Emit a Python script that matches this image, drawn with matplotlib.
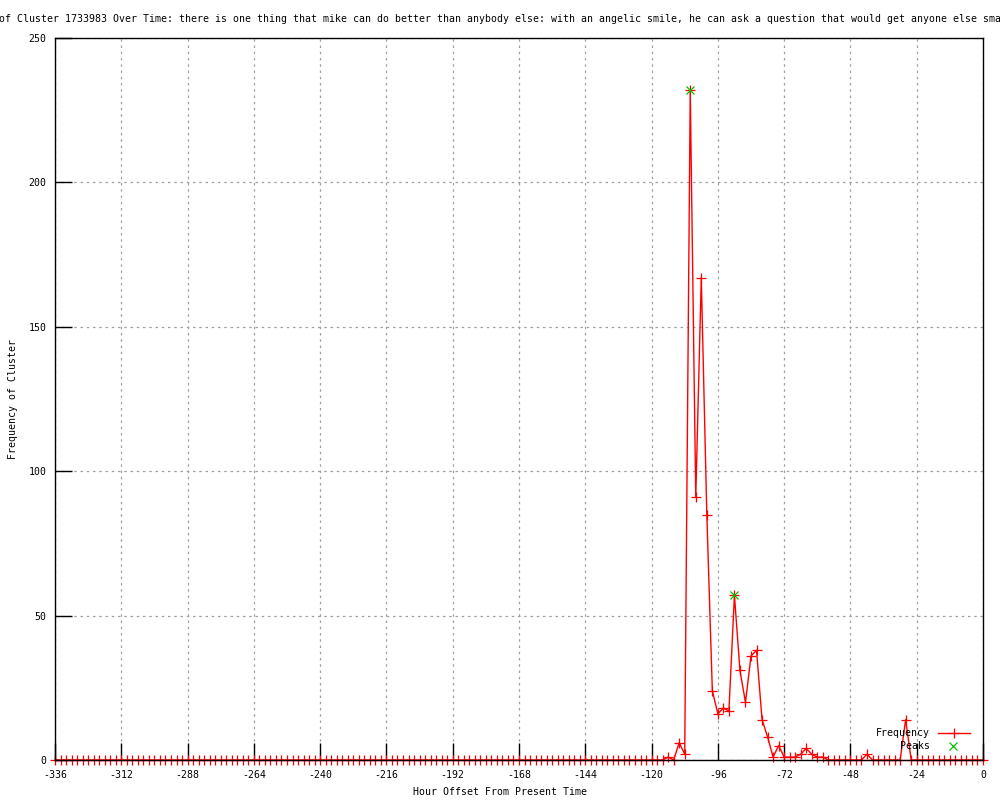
import matplotlib
matplotlib.use("Agg")
import matplotlib.pyplot as plt
from matplotlib.lines import Line2D

plt.rcParams['font.family'] = ['DejaVu Sans Mono']
plt.rcParams['axes.unicode_minus'] = False

title_text = ("of Cluster 1733983 Over Time: there is one thing that mike can do better "
              "than anybody else: with an angelic smile, he can ask a question that would get anyone else sma")
x_label = "Hour Offset From Present Time"
y_label = "Frequency of Cluster"

hours = list(range(-336, 1, 2))
freq = [
    0, 0, 0, 0, 0, 0, 0, 0, 0, 0,
    0, 0, 0, 0, 0, 0, 0, 0, 0, 0,
    0, 0, 0, 0, 0, 0, 0, 0, 0, 0,
    0, 0, 0, 0, 0, 0, 0, 0, 0, 0,
    0, 0, 0, 0, 0, 0, 0, 0, 0, 0,
    0, 0, 0, 0, 0, 0, 0, 0, 0, 0,
    0, 0, 0, 0, 0, 0, 0, 0, 0, 0,
    0, 0, 0, 0, 0, 0, 0, 0, 0, 0,
    0, 0, 0, 0, 0, 0, 0, 0, 0, 0,
    0, 0, 0, 0, 0, 0, 0, 0, 0, 0,
    0, 0, 0, 0, 0, 0, 0, 0, 0, 0,          # -336 .. -118
    0, 1, 0, 6, 2, 232, 91, 167, 85, 24,   # -116 .. -98
    16, 18, 17, 57, 31, 20, 36, 38, 14, 8,  # -96 .. -78
    1, 5, 1, 1, 1, 2, 4, 2, 1, 1,          # -76 .. -58
    0, 0, 0, 0, 0, 0, 0, 2, 0, 0,          # -56 .. -38
    0, 0, 0, 0, 14, 0, 0, 0, 0, 0,         # -36 .. -18
    0, 0, 0, 0, 0, 0, 0, 0, 0,             # -16 .. 0
]

peak_hours = [-106, -90]
peak_values = [232, 57]

xticks = list(range(-336, 1, 24))
xtick_labels = [str(v) for v in xticks]
yticks = [0, 50, 100, 150, 200, 250]
ytick_labels = [str(v) for v in yticks]

RED = "#ff0000"
GREEN = "#00c000"
FS = 7.1

fig = plt.figure(figsize=(10, 8), dpi=100)
ax = fig.add_axes([0.055, 0.05, 0.928, 0.9025])

ax.plot(hours, freq, color=RED, lw=1.0, marker='+', ms=6.5, mew=0.9,
        clip_on=False, zorder=3)
ax.plot(peak_hours, peak_values, linestyle='none', color=GREEN, marker='x',
        ms=5.5, mew=0.9, clip_on=False, zorder=4)

ax.set_xlim(-336, 0)
ax.set_ylim(0, 250)
ax.set_xticks(xticks)
ax.set_xticklabels(xtick_labels)
ax.set_yticks(yticks)
ax.set_yticklabels(ytick_labels)
ax.tick_params(axis='both', direction='in', length=12, width=1, color='black',
               labelsize=FS, top=False, right=False)
ax.tick_params(axis='x', pad=7)
ax.tick_params(axis='y', pad=6)
ax.grid(True, color='#a0a0a0', linestyle=(0, (2, 3)), linewidth=0.9, zorder=0)
ax.set_axisbelow(True)
for sp in ax.spines.values():
    sp.set_color('black')
    sp.set_linewidth(1.0)
    sp.set_zorder(5)

fig.text(0.5, 1 - 19 / 800, title_text, ha='center', va='center', fontsize=FS)
fig.text(0.5, 1 - 792 / 800, x_label, ha='center', va='center', fontsize=FS)
fig.text(13 / 1000, 1 - 399 / 800, y_label, ha='center', va='center',
         rotation=90, fontsize=FS)

# legend (gnuplot style: right-aligned text, sample at right)
ax.text(0.943, 0.0374, "Frequency", transform=ax.transAxes, ha='right',
        va='center', fontsize=FS, zorder=6)
ax.text(0.943, 0.0194, "Peaks", transform=ax.transAxes, ha='right',
        va='center', fontsize=FS, zorder=6)
ax.add_line(Line2D([0.951, 0.986], [0.0374, 0.0374], transform=ax.transAxes,
                   color=RED, lw=1.0, zorder=6))
ax.add_line(Line2D([0.969], [0.0374], transform=ax.transAxes, color=RED,
                   marker='+', ms=6.5, mew=0.9, zorder=6))
ax.add_line(Line2D([0.968], [0.0194], transform=ax.transAxes, color=GREEN,
                   marker='x', ms=5.5, mew=0.9, linestyle='none', zorder=6))

fig.savefig("out.png", dpi=100)
